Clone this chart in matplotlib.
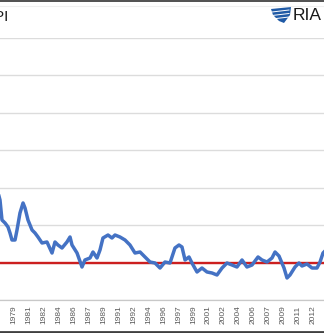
import matplotlib
matplotlib.use("Agg")
from matplotlib import pyplot as plt
from matplotlib.lines import Line2D
from matplotlib.patches import Polygon

# ---- data (decimal years, ratio units) ----
dates = [1977.56, 1978.00, 1978.22, 1978.56, 1978.89, 1979.11, 1979.33, 1979.67,
         1979.89, 1980.22, 1980.56, 1980.78, 1981.11, 1981.56, 1981.89, 1982.22,
         1982.67, 1983.22, 1983.78, 1984.11, 1984.44, 1984.89, 1985.44, 1985.78,
         1986.00, 1986.56, 1987.11, 1987.44, 1988.00, 1988.33, 1988.78, 1989.11,
         1989.44, 1990.00, 1990.44, 1990.78, 1991.33, 1991.89, 1992.44, 1993.00,
         1993.56, 1994.11, 1994.67, 1995.22, 1995.78, 1996.33, 1996.89, 1997.44,
         1997.89, 1998.22, 1998.56, 1999.00, 1999.33, 1999.89, 2000.44, 2001.00,
         2001.56, 2002.11, 2002.67, 2003.22, 2003.78, 2004.33, 2004.89, 2005.44,
         2006.00, 2006.67, 2007.11, 2007.67, 2008.22, 2008.56, 2009.00, 2009.56,
         2009.89, 2010.22, 2010.78, 2011.22, 2011.56, 2012.11, 2012.67, 2013.22,
         2013.56, 2013.89, 2014.44]
values = [3.067, 2.667, 2.133, 2.053, 1.947, 1.787, 1.600, 1.600,
          1.867, 2.320, 2.587, 2.453, 2.133, 1.867, 1.787, 1.680,
          1.520, 1.547, 1.253, 1.547, 1.467, 1.387, 1.547, 1.680,
          1.467, 1.253, 0.880, 1.067, 1.120, 1.280, 1.120, 1.333,
          1.653, 1.733, 1.653, 1.733, 1.680, 1.600, 1.467, 1.253,
          1.280, 1.147, 1.013, 0.987, 0.853, 1.013, 0.987, 1.387,
          1.467, 1.413, 1.067, 1.147, 0.987, 0.747, 0.853, 0.747,
          0.720, 0.667, 0.853, 0.987, 0.933, 0.880, 1.067, 0.880,
          0.933, 1.147, 1.067, 1.013, 1.120, 1.280, 1.173, 0.853,
          0.587, 0.667, 0.880, 0.987, 0.907, 0.960, 0.853, 0.853,
          1.013, 1.253, 1.387]
average = 1.0
tick_labels = ['1977', '1979', '1981', '1982', '1984', '1986', '1987', '1989',
               '1991', '1992', '1994', '1996', '1997', '1999', '2001', '2002',
               '2004', '2006', '2007', '2009', '2011', '2012', '2014']

W, H = 324, 333


def fpx(x, y):
    # pixel position (from top-left) -> figure fraction
    return (x / W, 1 - y / H)


fig = plt.figure(figsize=(W / 100, H / 100), dpi=100)
fig.patch.set_facecolor('white')

# plot area, wider than the (cropped) picture
ax = fig.add_axes([-0.1, (H - 300) / H, 1.2, 262.5 / H])
ax.set_xlim(1978.0 - 32.4 / 9, 1978.0 + 356.4 / 9)
ax.set_ylim(0, 7)

ax.plot(dates, values, color='#4472c4', linewidth=2.5, solid_joinstyle='round', zorder=3)
ax.axhline(average, color='#cc1f1f', linewidth=1.7, zorder=2)

ax.set_yticks(range(0, 8))
ax.yaxis.grid(True, color='#dcdcdc', linewidth=1.0)
ax.set_axisbelow(True)
ax.tick_params(axis='y', left=False, labelleft=False)

ax.set_xticks([1977.83 + k * 20 / 12 for k in range(len(tick_labels))])
ax.set_xticklabels(tick_labels, rotation=90, fontsize=6.0, color='#595959',
                   family='Liberation Sans')
ax.tick_params(axis='x', length=0, pad=4)

for side in ['top', 'right', 'left']:
    ax.spines[side].set_visible(False)
ax.spines['bottom'].set_color('#c8c8c8')
ax.spines['bottom'].set_linewidth(0.9)

# frame bits of the crop
fig.add_artist(Line2D([0, 1], [1 - 0.6 / H] * 2, color='#505050', linewidth=1.4))
fig.add_artist(Line2D([0, 1], [1 - 6 / H] * 2, color='#f0f0f0', linewidth=0.8))
fig.add_artist(Line2D([0, 1], [1 - 331.8 / H] * 2, color='#404040', linewidth=2.0))

# title (cropped on the left)
fig.text(*fpx(8.5, 17), 'CPI', ha='right', va='center', fontsize=11,
         color='#1a1a1a', family='Liberation Sans')

# RIA logo
fig.add_artist(Polygon([fpx(271, 9), fpx(291, 7), fpx(290, 15), fpx(284, 23),
                        fpx(279, 21), fpx(273, 15)], closed=True,
                       transform=fig.transFigure, facecolor='#1f5aa6', edgecolor='none'))
for yy in [12, 15.5, 19]:
    fig.add_artist(Line2D([272 / W, 289 / W], [1 - yy / H, 1 - (yy - 2) / H],
                          color='white', linewidth=0.7))
fig.text(*fpx(293, 15.5), 'RIA', ha='left', va='center', fontsize=12.5,
         color='#1a1a1a', family='Liberation Sans')

fig.savefig('out.png', dpi=100)
